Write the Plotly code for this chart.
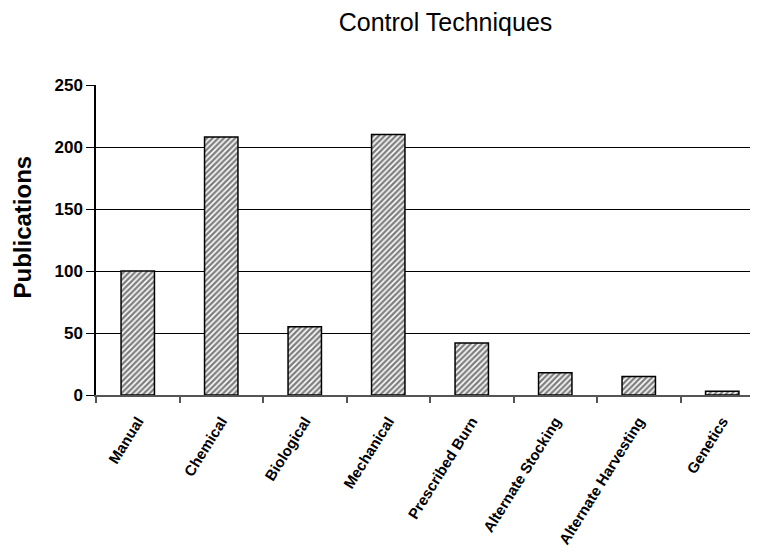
import plotly.graph_objects as go

categories = ["Manual", "Chemical", "Biological", "Mechanical", "Prescribed Burn",
              "Alternate Stocking", "Alternate Harvesting", "Genetics"]
publications = [100, 208, 55, 210, 42, 18, 15, 3]
y_ticks = [0, 50, 100, 150, 200, 250]

# page body has an 8px margin, so the figure is drawn 8px in from the top-left
OFF = 8
W, H = 758 - OFF, 555 - OFF
L, R, T = 96 - OFF, 0, 85 - OFF
B = H - (395 - OFF)
pw = W - L - R
ph = H - T - B
cat_px = 83.5
x_hi = -0.5 + pw / cat_px

FONT = "Liberation Sans, Arial, sans-serif"

fig = go.Figure(go.Bar(
    x=categories, y=publications,
    marker=dict(color="white",
                line=dict(color="black", width=1.5),
                pattern=dict(shape="/", fgcolor="black", bgcolor="white",
                             size=4, solidity=0.6)),
    hoverinfo="x+y",
))

fig.update_layout(
    width=W, height=H,
    margin=dict(l=L, r=R, t=T, b=B, pad=0),
    paper_bgcolor="white", plot_bgcolor="white",
    showlegend=False,
    bargap=0.6,
    font=dict(family=FONT, color="black"),
    title=dict(text="Control Techniques", x=(445.5 - OFF) / W, xanchor="center",
               y=1 - (22 - OFF) / H, yanchor="middle", yref="container",
               font=dict(size=25, family=FONT, color="black")),
    xaxis=dict(type="category", range=[-0.5, x_hi], showgrid=False,
               showline=True, linecolor="#555", linewidth=1.5,
               ticks="outside", tickson="boundaries", ticklen=6,
               tickcolor="#555", tickwidth=1.5,
               tickangle=-58, ticklabelstandoff=10,
               tickfont=dict(size=15, family=FONT, color="black", weight="bold")),
    yaxis=dict(range=[0, 250], tickvals=y_ticks, ticktext=[str(v) for v in y_ticks],
               showgrid=True, gridcolor="black", gridwidth=1,
               showline=True, linecolor="black", linewidth=1.5,
               ticks="outside", ticklen=8, tickcolor="black", tickwidth=1,
               zeroline=False,
               tickfont=dict(size=17, family=FONT, color="black", weight="bold")),
    annotations=[dict(text="<b>Publications</b>", textangle=-90,
                      xref="paper", yref="paper",
                      x=-(L - (22 - OFF)) / pw, y=(395 - 227.5) / (395 - 85),
                      xanchor="center", yanchor="middle", showarrow=False,
                      font=dict(size=24, family=FONT, color="black"))],
)

fig.write_html("out.html")
